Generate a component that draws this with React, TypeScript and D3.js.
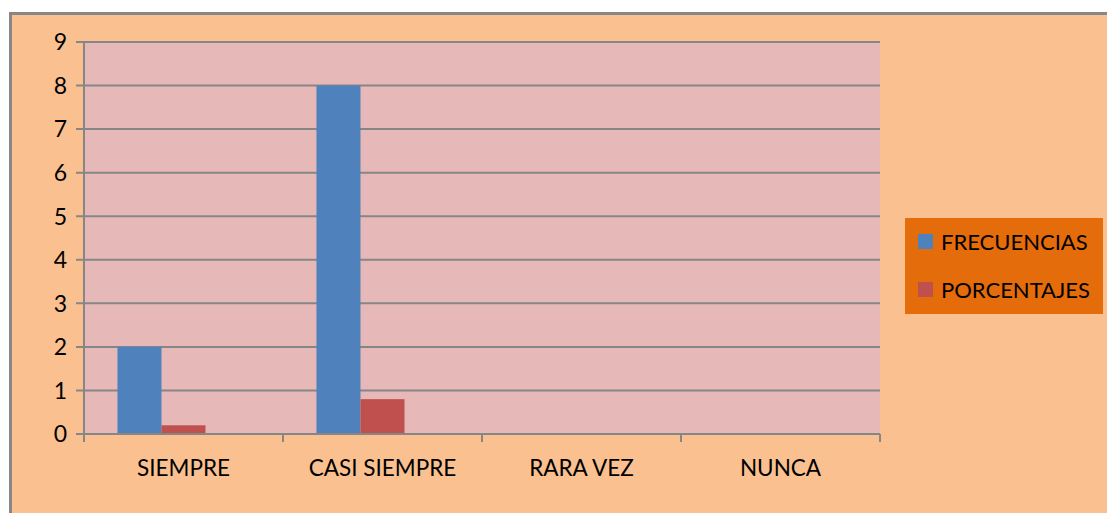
import React from 'react';
import * as d3 from 'd3';

const categories = ['SIEMPRE', 'CASI SIEMPRE', 'RARA VEZ', 'NUNCA'];
const seriesNames = ['FRECUENCIAS', 'PORCENTAJES'];
const frecuencias = [2, 8, 0, 0];
const porcentajes = [0.2, 0.8, 0, 0];
const yTicks = [0, 1, 2, 3, 4, 5, 6, 7, 8, 9];
// the source chart reserves a third (empty) series slot in each group
const slots = [...seriesNames, 'vacío'];

const colors = ['#4F81BD', '#C0504D'];
const width = 1107;
const height = 513;
const font = 'Lato, "Open Sans", sans-serif';

const App = () => {
    const left = 84, right = 880, top = 42, bottom = 434;

    const x = d3.scaleBand().domain(categories).range([left, right]).paddingInner(0).paddingOuter(0);
    const x1 = d3.scaleBand().domain(slots).range([0, x.bandwidth()]).paddingInner(0).paddingOuter(0.76);
    const y = d3.scaleLinear().domain([0, 9]).range([bottom, top]);

    const values = [frecuencias, porcentajes];
    const grid = '#868686';

    return (
        <svg width={width} height={height} style={{ position: 'absolute', left: 0, top: 0 }}>
            <rect x={10.5} y={13.5} width={width + 10} height={height + 10} fill="#FAC090" stroke="#878787" strokeWidth={3} />
            <rect x={left} y={top} width={right - left} height={bottom - top} fill="#E6B9B8" />
            {yTicks.map(t => (
                <g key={t}>
                    <line x1={left - 8} x2={right} y1={y(t)} y2={y(t)} stroke={grid} strokeWidth={2} />
                    <text x={67} y={y(t)} dy="0.36em" textAnchor="end" fontSize={23} fontFamily={font} fill="#000">{t}</text>
                </g>
            ))}
            <line x1={left} x2={left} y1={top} y2={bottom + 8} stroke={grid} strokeWidth={2} />
            {categories.map((c, i) => (
                <g key={c}>
                    <line x1={x(c)! + x.bandwidth()} x2={x(c)! + x.bandwidth()} y1={bottom} y2={bottom + 8} stroke={grid} strokeWidth={2} />
                    <text x={x(c)! + x.bandwidth() / 2} y={468} dy="0.36em" textAnchor="middle" fontSize={22.5} fontFamily={font} fill="#000">{c}</text>
                    {seriesNames.map((s, j) => (
                        values[j][i] > 0 ? (
                            <rect key={s} x={x(c)! + x1(s)!} y={y(values[j][i])} width={x1.bandwidth()} height={bottom - y(values[j][i])} fill={colors[j]} />
                        ) : null
                    ))}
                </g>
            ))}
            <line x1={left - 8} x2={right} y1={bottom} y2={bottom} stroke={grid} strokeWidth={2} />
            <rect x={905} y={218} width={198} height={96} fill="#E46C0A" />
            {seriesNames.map((s, j) => (
                <g key={s} transform={`translate(918, ${242 + j * 48})`}>
                    <rect x={0} y={-8} width={15} height={15} fill={colors[j]} />
                    <text x={23} y={0} dy="0.36em" fontSize={22} fontFamily={font} fill="#000">{s}</text>
                </g>
            ))}
        </svg>
    );
};

export default App;
